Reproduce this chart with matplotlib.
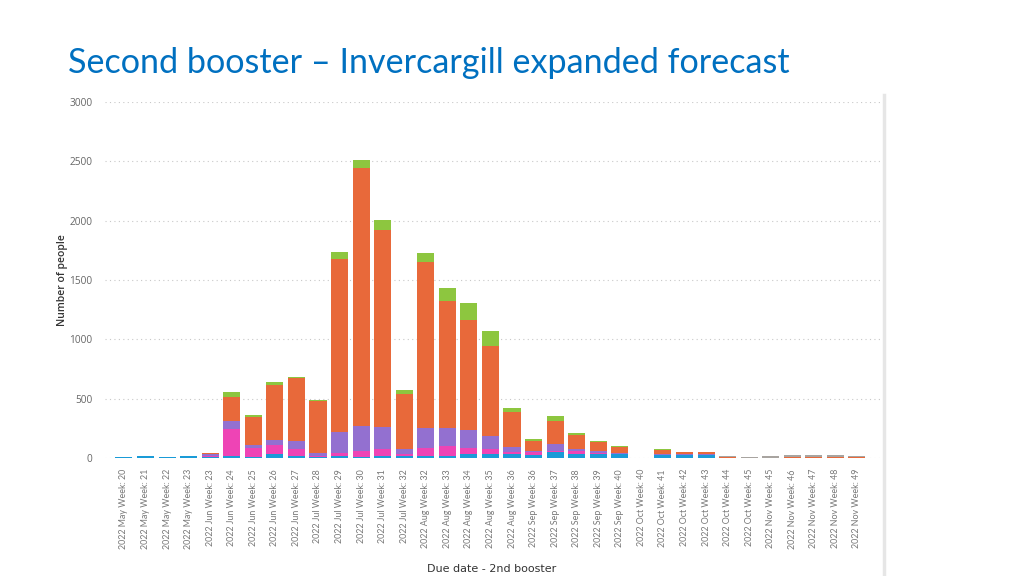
import matplotlib
matplotlib.use("Agg")
import matplotlib.pyplot as plt
from matplotlib.lines import Line2D
import numpy as np

categories = [
    "2022 May Week: 20", "2022 May Week: 21", "2022 May Week: 22", "2022 May Week: 23",
    "2022 Jun Week: 23", "2022 Jun Week: 24", "2022 Jun Week: 25", "2022 Jun Week: 26",
    "2022 Jun Week: 27", "2022 Jul Week: 28", "2022 Jul Week: 29", "2022 Jul Week: 30",
    "2022 Jul Week: 31", "2022 Jul Week: 32", "2022 Aug Week: 32", "2022 Aug Week: 33",
    "2022 Aug Week: 34", "2022 Aug Week: 35", "2022 Aug Week: 36", "2022 Sep Week: 36",
    "2022 Sep Week: 37", "2022 Sep Week: 38", "2022 Sep Week: 39", "2022 Sep Week: 40",
    "2022 Oct Week: 40", "2022 Oct Week: 41", "2022 Oct Week: 42", "2022 Oct Week: 43",
    "2022 Oct Week: 44", "2022 Oct Week: 45", "2022 Nov Week: 45", "2022 Nov Week: 46",
    "2022 Nov Week: 47", "2022 Nov Week: 48", "2022 Nov Week: 49",
]

blue = [6, 20, 12, 15, 5, 20, 12, 30, 15, 10, 15, 10, 13, 13, 13, 19, 30, 35, 35, 29,
        52, 35, 35, 36, 0, 27, 27, 27, 0, 0, 0, 0, 0, 0, 0]
pink = [0, 0, 0, 0, 10, 225, 73, 76, 62, 10, 30, 53, 67, 17, 73, 84, 56, 39, 15, 23,
        11, 22, 8, 0, 0, 0, 0, 0, 0, 0, 0, 0, 0, 0, 0]
purple = [0, 0, 0, 0, 15, 70, 28, 48, 64, 25, 177, 205, 179, 42, 168, 152, 152, 110, 45, 11,
          51, 17, 13, 10, 0, 8, 5, 5, 0, 0, 0, 0, 0, 0, 0]
orange = [0, 0, 0, 0, 15, 202, 230, 460, 531, 432, 1455, 2177, 1663, 469, 1395, 1072, 929, 764, 295, 84,
          202, 121, 76, 46, 0, 36, 17, 17, 5, 0, 0, 10, 12, 12, 12]
green = [0, 0, 0, 0, 0, 42, 23, 23, 14, 12, 60, 70, 81, 34, 79, 105, 139, 126, 34, 17,
         42, 19, 14, 8, 0, 6, 0, 0, 0, 0, 0, 0, 0, 0, 0]
grey = [0, 0, 0, 0, 0, 0, 0, 0, 0, 0, 0, 0, 0, 0, 0, 0, 0, 0, 0, 0,
        0, 0, 0, 0, 4, 0, 0, 0, 15, 8, 18, 13, 13, 15, 3]

series = [
    (blue, "#1A9BD7"),
    (pink, "#EE44B5"),
    (purple, "#9370D0"),
    (orange, "#E8693A"),
    (green, "#8DC63F"),
    (grey, "#A8A4A0"),
]

fig = plt.figure(figsize=(10.24, 5.76), dpi=100)
ax = fig.add_axes([105 / 1024, 1 - 458 / 576, 775 / 1024, 356 / 576])

x = np.arange(len(categories))
bottom = np.zeros(len(categories))
for vals, col in series:
    v = np.array(vals, dtype=float)
    ax.bar(x, v, width=0.79, bottom=bottom, color=col, linewidth=0, zorder=3)
    bottom += v

ax.set_xlim(-0.88, 35.07)
ax.set_ylim(0, 3000)
ax.set_yticks([0, 500, 1000, 1500, 2000, 2500, 3000])
ax.yaxis.grid(True, linestyle=(0, (1, 3)), color="#C8C8C8", linewidth=0.8, zorder=0)
ax.set_axisbelow(True)
for s in ax.spines.values():
    s.set_visible(False)
ax.tick_params(axis="both", length=0)
ax.tick_params(axis="y", labelsize=7.3, labelcolor="#666666", pad=9)
ax.set_xticks(x)
ax.set_xticklabels(categories, rotation=90, fontsize=6.4, color="#777777",
                   family="Lato", va="top")
ax.tick_params(axis="x", pad=8)
for lbl in ax.get_yticklabels():
    lbl.set_family("Open Sans")

ax.set_ylabel("Number of people", fontsize=7.5, color="#333333", family="Open Sans",
              fontweight="semibold")
ax.yaxis.set_label_coords(-0.048, 0.5)

fig.text(492 / 1024, 1 - 569 / 576, "Due date - 2nd booster", fontsize=8, color="#333333",
         family="DejaVu Sans", ha="center", va="center")

fig.text(68 / 1024, 1 - 73 / 576, "Second booster \u2013 Invercargill expanded forecast",
         fontsize=24.6, color="#0070C0", family="Lato", ha="left", va="baseline")

fig.add_artist(Line2D([884 / 1024, 884 / 1024], [0, 1 - 95 / 576],
                      color="#E6E6E6", linewidth=2.5))

fig.savefig("out.png", dpi=100)
